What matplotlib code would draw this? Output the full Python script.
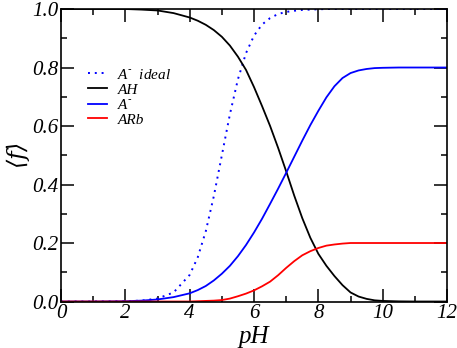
import matplotlib
matplotlib.use('Agg')
import matplotlib.pyplot as plt
from matplotlib.ticker import MultipleLocator, FormatStrFormatter

# pH grid shared by all curves
ph = [0, 1, 2, 2.5, 3, 3.5, 4, 4.25, 4.5, 4.75, 5, 5.25, 5.5, 5.75, 6, 6.25,
      6.5, 6.75, 7, 7.25, 7.5, 7.75, 8, 8.25, 8.5, 8.75, 9, 9.25, 9.5, 9.75,
      10, 10.5, 11, 11.5, 12]

# <f> values
a_ideal = [0.0, 0.0001, 0.001, 0.003, 0.010, 0.031, 0.091, 0.151, 0.240, 0.360,
           0.500, 0.640, 0.760, 0.849, 0.909, 0.947, 0.969, 0.983, 0.990, 0.994,
           0.997, 0.998, 0.999, 1.0, 1.0, 1.0, 1.0, 1.0, 1.0, 1.0,
           1.0, 1.0, 1.0, 1.0, 1.0]
ah = [1.0, 1.0, 1.0, 0.998, 0.995, 0.986, 0.971, 0.960, 0.946, 0.928,
      0.905, 0.875, 0.837, 0.792, 0.733, 0.668, 0.600, 0.525, 0.445, 0.362,
      0.285, 0.218, 0.163, 0.122, 0.087, 0.056, 0.031, 0.017, 0.009, 0.004,
      0.002, 0.0005, 0.0, 0.0, 0.0]
a_minus = [0.0, 0.0, 0.001, 0.003, 0.007, 0.015, 0.028, 0.039, 0.053, 0.072,
           0.095, 0.122, 0.155, 0.193, 0.236, 0.283, 0.334, 0.386, 0.440, 0.495,
           0.550, 0.603, 0.652, 0.698, 0.736, 0.764, 0.781, 0.790, 0.795, 0.798,
           0.799, 0.800, 0.800, 0.800, 0.800]
arb = [0.0, 0.0, 0.0, 0.0, 0.0, 0.0, 0.0, 0.001, 0.002, 0.003,
       0.005, 0.010, 0.018, 0.027, 0.038, 0.052, 0.068, 0.090, 0.115, 0.138,
       0.158, 0.172, 0.183, 0.191, 0.195, 0.198, 0.200, 0.200, 0.200, 0.200,
       0.200, 0.200, 0.200, 0.200, 0.200]

plt.rcParams['font.family'] = ['Liberation Serif', 'DejaVu Serif']
plt.rcParams['font.style'] = 'italic'
plt.rcParams['mathtext.fontset'] = 'dejavuserif'

fig = plt.figure(figsize=(4.57, 3.48), dpi=100)
ax = fig.add_axes([0.1335, 0.1336, 0.8447, 0.8405])

ax.plot(ph, a_ideal, color='blue', lw=1.4, linestyle=(0, (1, 2.5)), label=r'A$^\text{-}$  ideal')
ax.plot(ph, ah, color='black', lw=1.3, label='AH')
ax.plot(ph, a_minus, color='blue', lw=1.3, label=r'A$^\text{-}$')
ax.plot(ph, arb, color='red', lw=1.3, label='ARb')

ax.set_xlim(0, 12)
ax.set_ylim(0, 1)
ax.xaxis.set_major_locator(MultipleLocator(2))
ax.xaxis.set_minor_locator(MultipleLocator(1))
ax.yaxis.set_major_locator(MultipleLocator(0.2))
ax.yaxis.set_minor_locator(MultipleLocator(0.1))
ax.yaxis.set_major_formatter(FormatStrFormatter('%.1f'))
ax.tick_params(which='both', direction='in', top=True, right=True, width=1.1, labelsize=15)
ax.tick_params(which='major', length=9.5, pad=2)
ax.tick_params(which='minor', length=4.5)
for s in ax.spines.values():
    s.set_linewidth(1.2)

ax.set_xlabel('pH', fontsize=18, labelpad=2)
ax.set_ylabel(r'$\langle f\rangle$', fontsize=17, fontstyle='normal', labelpad=0)

ax.legend(loc='upper left', bbox_to_anchor=(0.055, 0.82), frameon=False, fontsize=11,
          handlelength=1.25, handletextpad=0.65, labelspacing=0.08, borderaxespad=0)

fig.savefig('out.png', dpi=100)
